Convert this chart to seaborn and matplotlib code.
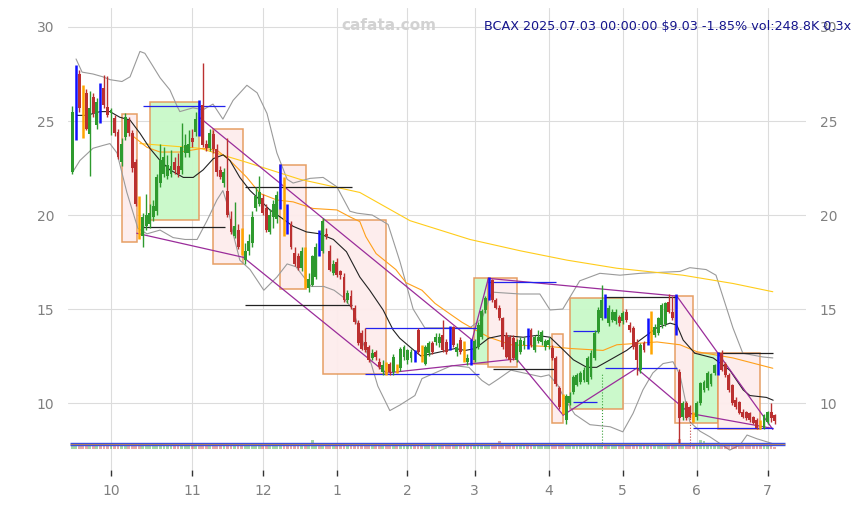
import numpy as np
import pandas as pd
import matplotlib
matplotlib.use("Agg")
import matplotlib.pyplot as plt
from matplotlib.patches import Rectangle
import seaborn as sns

# ---------------- data ----------------
month_labels = ["10", "11", "12", "1", "2", "3", "4", "5", "6", "7"]
month_idx = [11, 34, 54, 75, 95, 114, 135, 156, 177, 197]

opens = [22.3, 25.5, 27.5, 26.8, 26.5, 24.3, 26.3, 24.8, 26.9, 26.75,
         25.75, 25.4, 25.15, 24.4, 22.8, 24.15, 25.05, 24.35, 22.8, 20.6,
         18.9, 19.4, 19.5, 19.9, 20.2, 21.7, 22.2, 22.1, 22.2, 22.8,
         22.6, 22.4, 23.3, 23.3, 24.1, 24.4, 26.0, 25.85, 23.8, 23.55,
         24.3, 23.5, 22.4, 21.7, 21.3, 19.8, 18.9, 19.2, 18.7, 17.6,
         18.1, 18.5, 20.4, 20.6, 20.9, 20.4, 19.1, 19.9, 19.8, 20.5,
         21.9, 20.4, 19.5, 18.0, 17.8, 17.2, 18.1, 16.1, 16.3, 16.7,
         19.1, 18.1, 19.0, 18.1, 16.9, 17.5, 17.0, 16.7, 15.5, 15.7,
         15.05, 14.25, 13.7, 13.25, 13.0, 12.4, 12.7, 12.2, 11.65, 12.1,
         12.1, 11.65, 12.0, 11.85, 12.45, 12.3, 12.4, 12.7, 13.9, 13.0,
         12.1, 12.65, 13.2, 13.25, 13.2, 13.6, 13.25, 14.05, 14.05, 12.7,
         13.35, 13.2, 12.2, 13.35, 12.3, 13.0, 13.5, 14.95, 15.6, 16.55,
         15.5, 15.05, 14.5, 13.6, 13.5, 13.45, 12.3, 12.7, 13.1, 13.9,
         13.9, 12.8, 13.3, 13.25, 13.0, 13.1, 12.95, 12.4, 10.8, 10.4,
         9.1, 10.0, 10.6, 10.95, 11.1, 11.2, 11.1, 11.4, 12.4, 13.8,
         14.5, 15.75, 14.25, 14.4, 14.35, 14.6, 14.35, 14.85, 14.15, 14.0,
         13.25, 11.75, 13.2, 13.2, 14.85, 13.6, 13.75, 14.15, 14.2, 15.4,
         14.85, 13.6, 11.65, 9.25, 10.0, 9.8, 9.35, 9.25, 10.0, 10.7,
         10.8, 11.0, 11.6, 11.5, 12.65, 12.1, 11.5, 10.95, 10.15, 10.05,
         9.5, 9.5, 9.45, 9.25, 9.1, 9.0, 8.7, 9.0, 9.5, 9.35]
highs = [25.8, 28.0, 27.7, 26.9, 26.7, 26.6, 26.5, 26.2, 27.0, 27.45,
         27.4, 25.7, 25.3, 24.6, 24.1, 25.4, 25.2, 24.5, 23.0, 21.0,
         20.1, 21.1, 20.6, 20.8, 22.2, 23.8, 23.6, 23.2, 23.45, 23.1,
         23.3, 24.9, 24.3, 24.5, 24.6, 25.5, 26.1, 28.1, 24.0, 24.6,
         24.5, 23.8, 22.6, 22.5, 24.1, 20.2, 20.7, 19.5, 19.3, 18.5,
         19.0, 20.2, 21.5, 22.1, 21.1, 20.6, 20.3, 20.8, 21.3, 22.7,
         22.0, 20.6, 19.7, 18.3, 18.0, 18.3, 18.3, 16.9, 17.9, 18.5,
         19.2, 19.85, 19.3, 18.4, 17.6, 17.7, 17.1, 16.9, 16.0, 16.0,
         15.2, 14.4, 13.9, 14.0, 13.1, 12.9, 12.8, 12.4, 12.3, 12.2,
         12.2, 12.6, 12.1, 13.0, 13.1, 12.9, 12.9, 12.8, 14.0, 13.1,
         13.1, 13.3, 13.3, 13.7, 13.7, 14.4, 13.4, 14.1, 14.1, 13.2,
         13.5, 13.3, 12.6, 13.4, 13.4, 14.3, 15.0, 15.7, 16.7, 16.6,
         15.6, 15.2, 14.6, 13.8, 13.6, 13.6, 13.4, 13.5, 13.5, 14.0,
         14.0, 13.6, 13.9, 13.9, 13.4, 13.5, 13.1, 12.5, 10.9, 10.5,
         10.5, 10.6, 11.5, 11.6, 11.7, 11.9, 12.5, 12.8, 13.9, 15.1,
         16.3, 15.8, 15.2, 15.0, 15.0, 14.7, 14.9, 15.0, 14.3, 14.1,
         13.4, 13.2, 13.3, 14.5, 14.9, 14.2, 14.6, 15.3, 15.4, 15.8,
         15.7, 15.8, 11.8, 10.1, 10.1, 9.9, 9.5, 10.1, 11.1, 11.2,
         11.7, 11.6, 12.1, 12.7, 12.8, 12.2, 11.6, 11.0, 10.3, 10.1,
         9.7, 9.6, 9.5, 9.3, 9.2, 9.1, 9.4, 9.6, 10.0, 9.4]
lows = [22.2, 24.0, 25.5, 24.1, 24.5, 22.1, 25.2, 24.6, 24.9, 25.7,
        25.2, 24.25, 24.2, 23.0, 22.6, 24.0, 24.2, 22.3, 20.5, 18.7,
        18.3, 19.2, 19.3, 19.7, 20.0, 21.5, 22.0, 21.9, 22.0, 22.2,
        22.0, 22.2, 23.1, 23.1, 23.6, 24.2, 24.2, 23.6, 23.4, 23.4,
        23.3, 22.1, 21.9, 21.5, 19.9, 19.0, 18.8, 18.2, 17.9, 17.4,
        17.9, 18.3, 20.2, 20.5, 20.0, 19.1, 19.0, 19.3, 19.6, 20.3,
        18.9, 19.0, 18.2, 17.3, 17.1, 17.0, 16.1, 15.9, 16.2, 16.6,
        17.8, 18.0, 18.7, 17.0, 16.8, 16.7, 16.6, 15.4, 15.3, 15.0,
        14.2, 13.1, 12.8, 12.7, 12.2, 12.3, 12.3, 11.8, 11.5, 11.5,
        11.5, 11.5, 11.6, 11.7, 12.3, 12.1, 12.2, 12.2, 12.6, 12.2,
        12.0, 12.5, 12.6, 13.1, 13.0, 12.7, 12.6, 12.8, 13.0, 12.5,
        12.6, 12.2, 12.0, 12.0, 12.2, 12.9, 13.4, 14.8, 15.5, 15.4,
        15.0, 14.4, 12.9, 12.4, 12.2, 12.3, 12.2, 12.6, 12.9, 12.9,
        13.0, 12.7, 13.2, 13.1, 12.8, 12.9, 12.3, 10.9, 9.7, 9.4,
        8.9, 9.9, 10.5, 10.9, 11.0, 11.1, 11.0, 11.3, 12.3, 13.7,
        14.4, 14.5, 14.1, 14.3, 14.2, 14.1, 14.2, 14.3, 13.8, 12.9,
        11.5, 11.6, 12.7, 13.1, 12.6, 13.5, 13.6, 14.0, 14.1, 14.8,
        14.4, 13.6, 7.9, 9.1, 9.1, 9.2, 9.0, 9.1, 9.9, 10.6,
        10.7, 10.9, 11.5, 11.5, 11.7, 11.4, 10.6, 9.9, 9.7, 9.4,
        9.2, 9.1, 9.0, 8.9, 8.6, 8.6, 8.6, 8.9, 9.0, 8.9]
closes = [25.5, 27.2, 25.7, 24.4, 24.6, 25.7, 25.4, 26.0, 25.0, 25.85,
          25.3, 25.6, 24.35, 23.1, 23.8, 25.2, 24.35, 22.5, 20.6, 18.9,
          19.9, 20.0, 20.1, 20.5, 22.0, 22.9, 23.1, 22.65, 22.6, 22.4,
          22.2, 23.6, 23.7, 23.8, 23.9, 25.1, 24.25, 23.7, 23.55, 24.35,
          23.5, 22.3, 22.0, 22.3, 20.0, 19.1, 19.4, 18.3, 18.0, 18.1,
          18.6, 19.9, 21.0, 21.2, 20.1, 19.2, 20.0, 20.6, 21.05, 22.4,
          19.2, 19.1, 18.3, 17.4, 17.2, 18.1, 16.2, 16.6, 17.8, 18.3,
          17.9, 19.7, 18.9, 17.1, 17.4, 16.8, 16.8, 15.5, 15.85, 15.1,
          14.3, 13.2, 12.9, 12.8, 12.3, 12.65, 12.45, 11.9, 12.0, 11.6,
          11.65, 12.45, 11.7, 12.9, 13.0, 12.8, 12.7, 12.3, 12.7, 12.3,
          13.0, 13.2, 12.7, 13.5, 13.5, 12.8, 12.7, 12.9, 13.1, 13.0,
          12.7, 12.3, 12.4, 12.1, 13.3, 14.15, 14.9, 15.6, 16.6, 15.5,
          15.05, 14.5, 13.0, 12.45, 12.3, 12.4, 13.25, 13.35, 13.3, 13.0,
          13.1, 13.5, 13.5, 13.8, 13.3, 13.35, 12.4, 11.0, 9.8, 9.5,
          10.4, 10.4, 11.4, 11.5, 11.6, 11.75, 12.4, 12.65, 13.75, 14.95,
          15.5, 14.55, 15.05, 14.85, 14.85, 14.25, 14.8, 14.4, 13.9, 13.0,
          12.3, 13.1, 12.8, 14.4, 12.65, 14.05, 14.5, 15.2, 15.3, 14.85,
          14.5, 15.75, 9.2, 10.0, 9.2, 9.25, 9.1, 10.0, 11.05, 11.1,
          11.6, 11.55, 12.0, 12.65, 11.75, 11.5, 10.7, 10.0, 9.8, 9.45,
          9.25, 9.2, 9.1, 8.95, 8.7, 8.65, 9.35, 9.5, 9.2, 9.03]
volumes_k = [900, 450, 450, 900, 900, 450, 450, 450, 450, 450,
             450, 900, 900, 900, 450, 450, 900, 900, 900, 900,
             900, 900, 450, 900, 900, 900, 450, 450, 450, 450,
             450, 450, 450, 450, 450, 900, 900, 900, 450, 450,
             450, 450, 450, 450, 900, 900, 900, 900, 900, 900,
             900, 450, 450, 450, 450, 450, 900, 450, 450, 900,
             900, 900, 900, 900, 900, 900, 900, 900, 1300, 900,
             450, 450, 450, 450, 450, 900, 900, 900, 450, 900,
             450, 450, 900, 900, 900, 450, 900, 450, 450, 900,
             450, 900, 450, 900, 900, 450, 450, 450, 450, 450,
             450, 450, 450, 450, 450, 450, 450, 900, 900, 900,
             900, 450, 450, 900, 900, 900, 900, 900, 450, 450,
             450, 1100, 900, 900, 900, 900, 900, 900, 900, 900,
             450, 450, 450, 900, 900, 900, 900, 900, 900, 900,
             900, 450, 450, 450, 450, 900, 900, 900, 900, 900,
             900, 450, 900, 900, 900, 900, 900, 900, 900, 900,
             900, 900, 900, 900, 900, 450, 900, 900, 900, 900,
             900, 900, 1400, 900, 900, 900, 900, 900, 1250, 1100,
             900, 900, 900, 900, 900, 900, 900, 900, 900, 900,
             900, 900, 900, 900, 900, 900, 900, 900, 900, 249]
blue_idx = [1, 8, 36, 59, 61, 70, 97, 107, 113, 118, 129, 151, 163, 171, 183]
orange_idx = [3, 19, 48, 60, 66, 89, 92, 99, 111, 139, 164, 176, 195]

# bands and moving averages (bar position, price)
bb_up_x = [1.1, 2.8, 5.9, 8.7, 10.7, 14.1, 16.4, 19.2, 20.6, 22.6, 24.9, 27.7, 29.7, 30.5,
           34.2, 37.1, 39.9, 42.7, 45.6, 49.5, 52.4, 55.2, 58.0, 60.9, 62.6, 67.4, 71.1,
           75.0, 78.7, 80.7, 85.0, 89.5, 92.9, 96.6, 99.9, 107.0, 112.7, 116.1, 118.9,
           126.9, 132.5, 135.4, 139.0, 143.8, 149.5, 155.2, 160.9, 172.2, 175.0, 179.6,
           182.4, 187.2, 190.0, 195.7, 198.5]
bb_up_y = [28.3, 27.6, 27.5, 27.35, 27.2, 27.1, 27.35, 28.7, 28.6, 28.0, 27.3, 26.65, 25.8, 25.5,
           25.7, 25.6, 25.9, 25.1, 26.1, 26.9, 26.5, 25.4, 23.3, 21.9, 21.7, 21.95, 22.0,
           21.5, 20.2, 20.1, 20.0, 19.5, 17.5, 15.0, 14.0, 14.0, 14.0, 14.5, 15.9,
           15.8, 15.8, 14.95, 15.0, 16.5, 16.9, 16.8, 16.9, 17.0, 17.2, 17.1,
           16.8, 14.0, 12.65, 12.45, 12.4]
bb_lo_x = [0.2, 2.2, 5.9, 8.7, 10.7, 12.7, 15.5, 18.6, 21.2, 24.9, 28.6, 32.0, 35.4, 38.2,
           41.0, 42.7, 43.9, 45.6, 47.5, 50.4, 54.3, 58.0, 60.9, 63.4, 67.7, 71.3, 74.2,
           76.7, 79.6, 82.4, 84.7, 86.6, 90.0, 92.9, 97.1, 99.1, 107.6, 112.4, 116.1,
           118.1, 120.9, 124.3, 132.8, 135.1, 137.6, 139.3, 142.4, 146.7, 152.4, 156.0,
           158.9, 161.7, 164.5, 167.4, 170.2, 172.2, 175.0, 177.9, 180.7, 186.3, 189.2,
           191.2, 194.0, 196.8, 199.7]
bb_lo_y = [22.3, 22.9, 23.55, 23.7, 23.8, 23.3, 21.2, 19.3, 19.0, 19.2, 18.8, 18.7, 18.7, 19.7,
           20.8, 21.3, 20.6, 19.0, 17.6, 17.1, 16.0, 16.7, 17.4, 17.25, 16.2, 16.2, 16.0,
           15.65, 14.95, 13.2, 12.1, 10.9, 9.6, 9.9, 10.4, 11.3, 12.0, 11.9, 11.2,
           10.95, 11.3, 11.75, 11.4, 11.5, 10.95, 10.3, 9.4, 8.85, 8.74, 8.47,
           9.45, 10.7, 11.6, 12.1, 12.2, 11.5, 9.0, 8.5, 8.2, 7.5, 7.77,
           8.3, 8.1, 7.94, 7.77]
ma_short_x = [1.3, 4.1, 7.9, 10.7, 13.5, 16.4, 19.2, 22.0, 24.9, 27.7, 31.5, 34.3, 37.1, 40.0,
              42.8, 44.7, 47.5, 50.4, 53.2, 56.0, 58.9, 62.6, 66.4, 70.2, 74.0, 77.7, 81.5,
              84.3, 88.1, 90.9, 92.8, 95.6, 98.8, 103.8, 108.5, 111.4, 114.2, 118.0, 121.8,
              127.8, 131.6, 135.4, 138.2, 142.0, 145.8, 148.6, 152.4, 157.1, 160.9, 165.6,
              169.4, 171.3, 173.1, 176.4, 181.6, 186.3, 190.1, 192.0, 196.7, 198.6]
ma_short_y = [25.3, 25.3, 25.5, 25.5, 25.2, 25.05, 24.35, 23.55, 22.9, 22.4, 22.0, 22.0, 22.4, 23.0,
              23.2, 22.9, 22.0, 21.3, 20.8, 20.27, 19.9, 19.4, 19.1, 19.0, 18.7, 18.05, 16.7,
              16.0, 14.95, 13.9, 13.45, 13.0, 12.5, 12.7, 12.9, 12.8, 12.9, 13.45, 13.6,
              13.5, 13.6, 13.5, 13.0, 12.3, 11.9, 11.9, 12.3, 12.8, 13.35, 14.0,
              14.25, 14.15, 13.35, 12.65, 12.4, 11.75, 10.7, 10.4, 10.3, 10.15]
ma_mid_x = [17.2, 21.2, 24.9, 30.5, 37.1, 41.0, 44.7, 49.5, 53.2, 58.0, 62.6, 68.2, 75.0,
            78.7, 81.5, 83.2, 86.1, 91.7, 94.6, 99.1, 102.8, 106.8, 110.4, 114.1, 118.1,
            124.3, 135.6, 141.3, 150.4, 154.3, 165.7, 172.2, 177.0, 187.2, 198.5]
ma_mid_y = [24.2, 23.6, 23.35, 23.35, 23.55, 23.45, 22.9, 22.0, 21.15, 20.8, 20.7, 20.35, 20.27,
            19.9, 19.65, 18.85, 17.95, 17.1, 16.4, 16.0, 15.3, 14.77, 14.3, 13.9, 13.5,
            13.1, 13.0, 12.9, 12.8, 13.1, 13.25, 13.1, 12.73, 12.4, 11.85]
ma_long_x = [19.2, 36.2, 49.5, 64.5, 81.5, 95.7, 112.7, 126.9, 140.2, 154.3, 173.0, 187.2, 198.5]
ma_long_y = [23.8, 23.55, 22.8, 21.9, 21.2, 19.7, 18.7, 18.1, 17.6, 17.17, 16.8, 16.36, 15.92]

# boxes: start bar, end bar, top price, bottom price, kind
box_x0 = [14.2, 22.05, 40.0, 58.9, 71.1, 113.8, 117.9, 136.0, 141.0, 170.9, 176.0, 182.9]
box_x1 = [18.3, 36.0, 48.3, 66.2, 89.0, 117.9, 125.9, 139.0, 156.1, 176.0, 182.9, 195.0]
box_top = [25.36, 26.0, 24.56, 22.66, 19.73, 16.63, 16.63, 13.67, 15.57, 15.69, 12.68, 12.68]
box_bot = [18.55, 19.73, 17.4, 16.06, 11.53, 12.07, 11.9, 8.95, 9.66, 8.92, 8.92, 8.62]
box_kind = ["down", "up", "down", "down", "down", "up", "down", "down", "up", "down", "up", "down"]

# trend segments
tl_x0 = [18.3, 48.5, 36.0, 113.3, 117.9, 89.0, 125.9, 139.1, 159.9, 175.0, 171.3]
tl_y0 = [19.03, 17.75, 25.2, 13.35, 16.63, 11.6, 12.35, 9.36, 11.85, 9.45, 15.69]
tl_x1 = [48.5, 89.0, 113.3, 117.9, 171.3, 125.9, 139.1, 159.9, 175.0, 198.5, 198.5]
tl_y1 = [17.75, 11.6, 13.35, 16.63, 15.69, 12.35, 9.36, 11.85, 9.45, 8.65, 8.6]

# horizontal levels
lvl_y = [25.78, 19.35, 21.47, 15.2, 13.99, 11.53, 16.42, 11.8, 13.83, 10.04, 15.62, 11.85, 12.64, 8.65]
lvl_x0 = [20.1, 20.1, 49.0, 49.0, 83.0, 83.0, 117.9, 119.1, 141.9, 141.9, 151.0, 151.0, 182.9, 176.0]
lvl_x1 = [43.3, 43.3, 79.2, 79.2, 115.2, 115.2, 137.0, 137.0, 148.6, 148.6, 171.3, 171.3, 198.6, 198.6]
lvl_col = ["b", "k", "k", "k", "b", "b", "b", "k", "b", "b", "k", "b", "k", "b"]

title_text = "BCAX 2025.07.03 00:00:00 $9.03 -1.85% vol:248.8K 0.3x"

# ---------------- drawing ----------------
sns.set_theme(style="white")
plt.rcParams["font.family"] = ["DejaVu Sans"]

W, H = 861, 505
fig = plt.figure(figsize=(W / 100, H / 100), dpi=100)
ax = fig.add_axes([68 / W, 35 / H, 738 / W, 462 / H])
ax.set_xlim(-1.18, 207.9)
ax.set_ylim(6.44, 31.01)

GREEN = "#2e9a2e"
RED = "#bb3030"

n = len(closes)
idx = np.arange(n)
o = np.array(opens); h = np.array(highs); l = np.array(lows); c = np.array(closes)
special = np.zeros(n, dtype=bool)
special[blue_idx] = True
special[orange_idx] = True
up = c >= o
cols = np.where(up, GREEN, RED)

# boxes
for x0, x1, t, b, k in zip(box_x0, box_x1, box_top, box_bot, box_kind):
    fc = "#c9f9c9" if k == "up" else "#fdecec"
    ax.add_patch(Rectangle((x0, b), x1 - x0, t - b, facecolor=fc, edgecolor="#e59a5c",
                           lw=1.1, alpha=0.95, zorder=1))

# bands and averages via seaborn
def line(xs, ys, color, lw, z):
    df = pd.DataFrame({"x": xs, "y": ys})
    sns.lineplot(data=df, x="x", y="y", ax=ax, color=color, lw=lw, sort=False,
                 estimator=None, zorder=z)

line(bb_up_x, bb_up_y, "#9a9a9a", 0.8, 2)
line(bb_lo_x, bb_lo_y, "#9a9a9a", 0.8, 2)
line(ma_long_x, ma_long_y, "#ffcc1a", 0.8, 2)
line(ma_mid_x, ma_mid_y, "#ffa01a", 0.8, 2)
line(ma_short_x, ma_short_y, "#222222", 0.8, 3)

# normal candles
nm = ~special
ax.vlines(idx[nm], l[nm], h[nm], colors=cols[nm], lw=1.0, zorder=4)
ax.bar(idx[nm], np.maximum(np.abs(c - o), 0.06)[nm], bottom=np.minimum(o, c)[nm],
       width=0.82, color=cols[nm], lw=0, zorder=4)
# highlighted candles
ax.vlines(blue_idx, l[blue_idx], h[blue_idx], colors="#1010ff", lw=1.8, zorder=5)
ax.vlines(orange_idx, l[orange_idx], h[orange_idx], colors="#ffa500", lw=1.8, zorder=5)

# trend segments
for x0, y0, x1, y1 in zip(tl_x0, tl_y0, tl_x1, tl_y1):
    ax.plot([x0, x1], [y0, y1], color="#9a2c9a", lw=0.9, zorder=3)

# horizontal levels
for y, x0, x1, cc in zip(lvl_y, lvl_x0, lvl_x1, lvl_col):
    ax.hlines(y, x0, x1, colors="#2222ee" if cc == "b" else "#222222", lw=0.9, zorder=3)

# volume strip
vbase = 7.57
vscale = 0.00036
ax.bar(idx, np.array(volumes_k) * vscale, bottom=vbase, width=0.8,
       color=np.where(up, "#3aa03a", "#c04040"), alpha=0.45, lw=0, zorder=2)
ax.hlines([7.86, 7.755], -0.5, 202, colors="#3b4fe0", lw=1.0, zorder=3)
ax.hlines(7.805, -0.5, 202, colors="#b08060", lw=0.7, zorder=3)
ax.vlines(150, 7.7, 11.6, colors="#3aa03a", lw=0.8, linestyles=":", zorder=2)
ax.vlines(175, 7.7, 9.3, colors="#c04040", lw=0.8, linestyles=":", zorder=2)

# axes styling
ax.set_yticks([10, 15, 20, 25, 30])
ax.set_yticklabels(["10", "15", "20", "25", "30"])
ax.set_xticks(month_idx)
ax.set_xticklabels(month_labels)
ax.set_xlabel("")
ax.set_ylabel("")
ax.grid(True, color="#dcdcdc", lw=0.8, zorder=0)
ax.set_axisbelow(True)
for s in ax.spines.values():
    s.set_visible(False)
ax.tick_params(axis="y", length=0, labelleft=True, labelright=True, labelsize=10,
               labelcolor="#808080", pad=10)
ax.tick_params(axis="x", length=4, width=1, color="#333333", labelsize=10,
               labelcolor="#808080", pad=6, bottom=True)

fig.text(389 / W, 1 - 25 / H, "cafata.com", color="#d2d2d2", fontsize=11,
         fontweight="bold", ha="center", va="center")
fig.text(851 / W, 1 - 27 / H, title_text, color="#14148c", fontsize=9.2,
         ha="right", va="center", zorder=10)

fig.savefig("out.png", dpi=100)
